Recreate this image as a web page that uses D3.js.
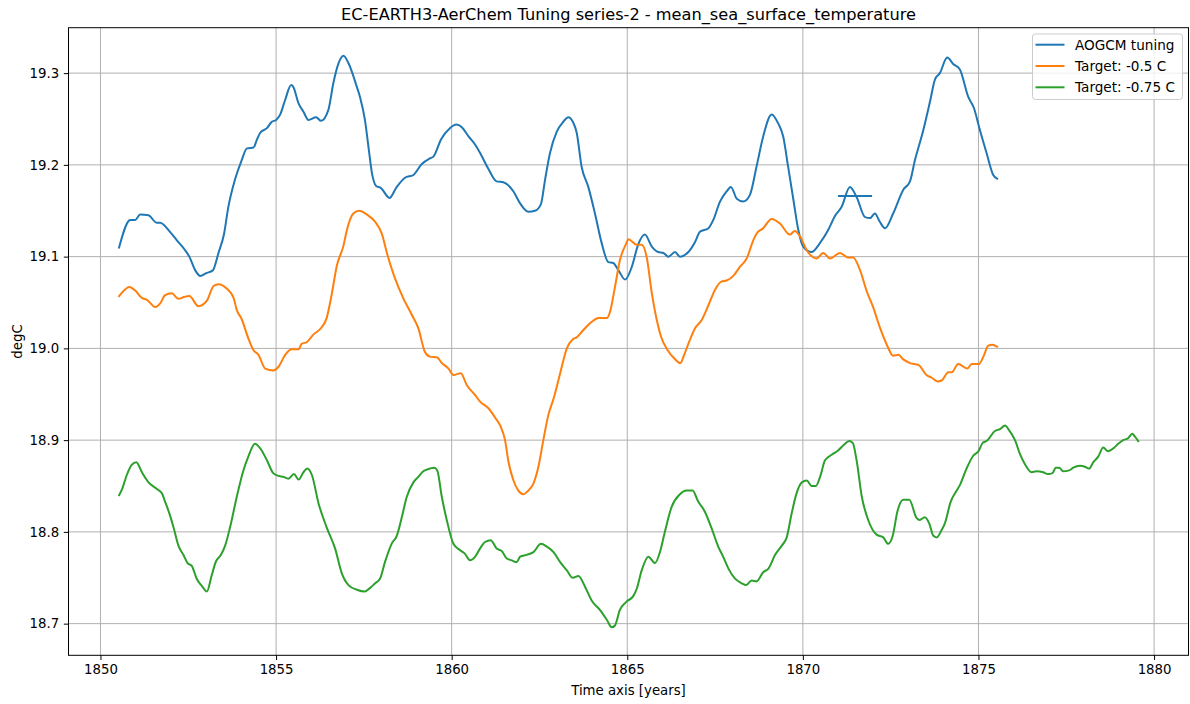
<!DOCTYPE html>
<html>
<head>
<meta charset="utf-8">
<script src="https://cdn.jsdelivr.net/npm/d3@7/dist/d3.min.js"></script>
<style>
  html, body { margin: 0; padding: 0; background: #fff; }
  svg text { font-family: "DejaVu Sans", sans-serif; fill: #000; }
  .grid line { stroke: #b0b0b0; stroke-width: 1; }
  .axis path { display: none; }
  .axis line { stroke: #000; stroke-width: 1; }
  .axis text { font-size: 13.3px; }
  .series { fill: none; stroke-width: 2; stroke-linejoin: round; stroke-linecap: square; }
</style>
</head>
<body>
<svg id="chart" width="1190" height="704"></svg>
<script>
/* Chart data */
var seriesNames = ['AOGCM tuning', 'Target: -0.5 C', 'Target: -0.75 C'];
var seriesColors = ['#1f77b4', '#ff7f0e', '#2ca02c'];

var aogcmYears = [1850.53, 1850.85, 1850.99, 1851.13, 1851.37, 1851.60, 1851.70, 1851.98, 1852.17, 1852.41,
  1852.53, 1852.70, 1852.84, 1853.01, 1853.20, 1853.36, 1853.52, 1853.64, 1853.83, 1854.02,
  1854.17, 1854.36, 1854.45, 1854.55, 1854.74, 1854.88, 1855.00, 1855.12, 1855.26, 1855.43,
  1855.49, 1855.64, 1855.78, 1855.92, 1856.14, 1856.28, 1856.49, 1856.63, 1856.78, 1856.92,
  1857.06, 1857.30, 1857.39, 1857.53, 1857.63, 1857.73, 1857.85, 1857.98, 1858.23, 1858.42,
  1858.67, 1858.91, 1859.15, 1859.38, 1859.48, 1859.70, 1859.95, 1860.13, 1860.29, 1860.48,
  1860.67, 1860.81, 1861.04, 1861.28, 1861.47, 1861.76, 1861.95, 1862.18, 1862.37, 1862.54,
  1862.66, 1862.80, 1862.99, 1863.18, 1863.32, 1863.45, 1863.56, 1863.70, 1863.89, 1864.08,
  1864.27, 1864.46, 1864.60, 1864.75, 1864.94, 1865.13, 1865.31, 1865.50, 1865.70, 1865.88,
  1866.03, 1866.17, 1866.36, 1866.50, 1866.74, 1866.93, 1867.07, 1867.31, 1867.45, 1867.64,
  1867.83, 1867.95, 1868.12, 1868.30, 1868.49, 1868.68, 1868.87, 1869.11, 1869.30, 1869.44,
  1869.58, 1869.73, 1869.87, 1870.01, 1870.25, 1870.49, 1870.72, 1870.91, 1871.10, 1871.34,
  1871.53, 1871.77, 1871.91, 1872.05, 1872.19, 1872.34, 1872.57, 1872.86, 1873.05, 1873.19,
  1873.43, 1873.62, 1873.76, 1873.90, 1874.11, 1874.28, 1874.47, 1874.71, 1874.87, 1875.04,
  1875.23, 1875.42, 1875.53];
var aogcmValues = [19.110, 19.140, 19.140, 19.146, 19.145, 19.137, 19.137, 19.127, 19.118, 19.107,
  19.100, 19.085, 19.079, 19.082, 19.085, 19.104, 19.125, 19.154, 19.184, 19.205,
  19.218, 19.219, 19.227, 19.235, 19.240, 19.247, 19.249, 19.255, 19.271, 19.287,
  19.285, 19.267, 19.258, 19.249, 19.252, 19.248, 19.260, 19.289, 19.311, 19.319,
  19.311, 19.285, 19.274, 19.249, 19.220, 19.191, 19.177, 19.175, 19.164, 19.175,
  19.186, 19.189, 19.201, 19.207, 19.209, 19.228, 19.240, 19.244, 19.241, 19.231,
  19.222, 19.213, 19.196, 19.182, 19.181, 19.171, 19.158, 19.149, 19.150, 19.157,
  19.184, 19.213, 19.236, 19.247, 19.252, 19.247, 19.235, 19.198, 19.176, 19.147,
  19.115, 19.094, 19.093, 19.085, 19.075, 19.089, 19.113, 19.124, 19.111, 19.105,
  19.104, 19.100, 19.105, 19.100, 19.105, 19.116, 19.127, 19.131, 19.140, 19.160,
  19.171, 19.176, 19.163, 19.160, 19.167, 19.198, 19.231, 19.255, 19.245, 19.231,
  19.198, 19.162, 19.129, 19.111, 19.105, 19.115, 19.129, 19.144, 19.154, 19.176,
  19.165, 19.143, 19.142, 19.147, 19.138, 19.131, 19.147, 19.173, 19.182, 19.205,
  19.238, 19.269, 19.293, 19.300, 19.317, 19.310, 19.304, 19.274, 19.262, 19.238,
  19.213, 19.189, 19.185];

// short horizontal mean marker drawn in the AOGCM colour
var meanYears = [1871.0, 1871.97];
var meanValue = 19.166;

var target05Years = [1850.53, 1850.83, 1850.99, 1851.18, 1851.32, 1851.56, 1851.70, 1851.84, 1852.03, 1852.22,
  1852.38, 1852.53, 1852.79, 1853.03, 1853.22, 1853.36, 1853.60, 1853.79, 1853.88, 1854.02,
  1854.21, 1854.36, 1854.50, 1854.69, 1854.92, 1855.07, 1855.26, 1855.45, 1855.64, 1855.73,
  1855.88, 1856.06, 1856.30, 1856.44, 1856.59, 1856.73, 1856.92, 1857.01, 1857.20, 1857.37,
  1857.58, 1857.82, 1858.01, 1858.17, 1858.36, 1858.63, 1858.86, 1859.05, 1859.24, 1859.38,
  1859.59, 1859.72, 1859.91, 1860.05, 1860.26, 1860.43, 1860.67, 1860.81, 1861.04, 1861.23,
  1861.38, 1861.52, 1861.61, 1861.76, 1861.90, 1862.04, 1862.18, 1862.33, 1862.47, 1862.61,
  1862.75, 1862.90, 1863.09, 1863.28, 1863.45, 1863.56, 1863.75, 1863.99, 1864.18, 1864.42,
  1864.51, 1864.65, 1864.79, 1864.98, 1865.03, 1865.27, 1865.41, 1865.55, 1865.70, 1865.84,
  1865.96, 1866.15, 1866.34, 1866.51, 1866.62, 1866.76, 1866.93, 1867.12, 1867.31, 1867.50,
  1867.69, 1867.83, 1868.02, 1868.21, 1868.40, 1868.59, 1868.68, 1868.87, 1869.11, 1869.35,
  1869.63, 1869.77, 1869.92, 1870.11, 1870.39, 1870.58, 1870.77, 1871.06, 1871.29, 1871.43,
  1871.63, 1871.82, 1872.00, 1872.20, 1872.39, 1872.57, 1872.72, 1872.86, 1873.05, 1873.29,
  1873.52, 1873.67, 1873.83, 1873.95, 1874.14, 1874.24, 1874.42, 1874.68, 1874.81, 1875.01,
  1875.14, 1875.28, 1875.39, 1875.53];
var target05Values = [19.057, 19.067, 19.063, 19.055, 19.053, 19.045, 19.049, 19.058, 19.060, 19.054,
  19.056, 19.057, 19.046, 19.052, 19.068, 19.070, 19.065, 19.055, 19.042, 19.032,
  19.011, 18.998, 18.993, 18.978, 18.976, 18.980, 18.993, 18.999, 18.999, 19.005,
  19.007, 19.015, 19.023, 19.033, 19.060, 19.090, 19.112, 19.128, 19.147, 19.150,
  19.146, 19.138, 19.125, 19.102, 19.079, 19.054, 19.037, 19.022, 18.996, 18.991,
  18.990, 18.984, 18.978, 18.971, 18.973, 18.960, 18.949, 18.942, 18.935, 18.925,
  18.916, 18.900, 18.878, 18.856, 18.845, 18.841, 18.845, 18.853, 18.871, 18.900,
  18.927, 18.945, 18.973, 19.000, 19.010, 19.012, 19.020, 19.029, 19.033, 19.033,
  19.040, 19.067, 19.096, 19.115, 19.119, 19.113, 19.113, 19.100, 19.060, 19.031,
  19.013, 18.998, 18.989, 18.984, 18.993, 19.007, 19.022, 19.031, 19.047, 19.064,
  19.073, 19.074, 19.079, 19.089, 19.098, 19.118, 19.125, 19.131, 19.141, 19.136,
  19.124, 19.128, 19.122, 19.107, 19.098, 19.104, 19.098, 19.104, 19.099, 19.099,
  19.085, 19.062, 19.045, 19.022, 19.004, 18.992, 18.993, 18.988, 18.984, 18.982,
  18.971, 18.968, 18.964, 18.965, 18.974, 18.974, 18.983, 18.978, 18.983, 18.983,
  18.991, 19.003, 19.004, 19.002];

var target075Years = [1850.53, 1850.61, 1850.75, 1850.89, 1851.02, 1851.18, 1851.37, 1851.56, 1851.75, 1851.84,
  1851.98, 1852.08, 1852.22, 1852.36, 1852.48, 1852.60, 1852.74, 1852.89, 1853.03, 1853.17,
  1853.29, 1853.43, 1853.55, 1853.69, 1853.88, 1854.07, 1854.21, 1854.40, 1854.55, 1854.74,
  1854.92, 1855.07, 1855.21, 1855.35, 1855.51, 1855.64, 1855.78, 1855.89, 1856.02, 1856.21,
  1856.44, 1856.68, 1856.87, 1857.06, 1857.30, 1857.53, 1857.68, 1857.82, 1857.96, 1858.10,
  1858.29, 1858.44, 1858.58, 1858.72, 1858.91, 1859.05, 1859.19, 1859.38, 1859.50, 1859.59,
  1859.72, 1859.86, 1860.05, 1860.24, 1860.38, 1860.52, 1860.67, 1860.81, 1860.95, 1861.11,
  1861.28, 1861.43, 1861.57, 1861.71, 1861.85, 1861.95, 1862.14, 1862.33, 1862.54, 1862.71,
  1862.90, 1863.09, 1863.28, 1863.45, 1863.61, 1863.80, 1863.99, 1864.22, 1864.42, 1864.56,
  1864.65, 1864.79, 1864.98, 1865.17, 1865.27, 1865.41, 1865.60, 1865.79, 1865.93, 1866.07,
  1866.26, 1866.50, 1866.69, 1866.86, 1867.02, 1867.21, 1867.40, 1867.59, 1867.73, 1867.88,
  1868.07, 1868.26, 1868.38, 1868.54, 1868.68, 1868.87, 1869.02, 1869.21, 1869.40, 1869.54,
  1869.68, 1869.82, 1869.97, 1870.11, 1870.25, 1870.37, 1870.49, 1870.63, 1870.82, 1871.01,
  1871.17, 1871.32, 1871.42, 1871.53, 1871.68, 1871.86, 1872.10, 1872.29, 1872.43, 1872.56,
  1872.69, 1872.86, 1873.03, 1873.24, 1873.33, 1873.47, 1873.60, 1873.71, 1873.81, 1873.95,
  1874.04, 1874.21, 1874.38, 1874.47, 1874.66, 1874.85, 1875.00, 1875.12, 1875.23, 1875.47,
  1875.61, 1875.76, 1875.85, 1876.04, 1876.18, 1876.32, 1876.51, 1876.65, 1876.84, 1876.98,
  1877.11, 1877.20, 1877.30, 1877.41, 1877.58, 1877.70, 1877.89, 1878.03, 1878.15, 1878.27,
  1878.41, 1878.55, 1878.69, 1878.84, 1878.98, 1879.12, 1879.26, 1879.38, 1879.45, 1879.55];
var target075Values = [18.840, 18.846, 18.862, 18.873, 18.876, 18.865, 18.854, 18.848, 18.842, 18.833,
  18.818, 18.805, 18.785, 18.775, 18.766, 18.763, 18.749, 18.741, 18.735, 18.753,
  18.768, 18.775, 18.785, 18.805, 18.838, 18.867, 18.882, 18.896, 18.891, 18.878,
  18.864, 18.861, 18.860, 18.858, 18.863, 18.857, 18.865, 18.869, 18.862, 18.831,
  18.805, 18.782, 18.755, 18.742, 18.737, 18.735, 18.739, 18.744, 18.749, 18.767,
  18.787, 18.796, 18.816, 18.838, 18.854, 18.860, 18.866, 18.869, 18.870, 18.867,
  18.838, 18.813, 18.787, 18.780, 18.776, 18.769, 18.773, 18.782, 18.789, 18.791,
  18.782, 18.779, 18.771, 18.769, 18.767, 18.773, 18.775, 18.778, 18.787, 18.784,
  18.778, 18.767, 18.758, 18.750, 18.752, 18.740, 18.725, 18.715, 18.704, 18.696,
  18.698, 18.715, 18.724, 18.730, 18.738, 18.758, 18.773, 18.766, 18.778, 18.800,
  18.827, 18.841, 18.845, 18.845, 18.833, 18.822, 18.804, 18.784, 18.773, 18.760,
  18.749, 18.744, 18.742, 18.747, 18.746, 18.756, 18.760, 18.775, 18.785, 18.794,
  18.820, 18.842, 18.854, 18.856, 18.850, 18.850, 18.860, 18.878, 18.884, 18.889,
  18.895, 18.899, 18.897, 18.878, 18.838, 18.813, 18.797, 18.794, 18.787, 18.796,
  18.822, 18.835, 18.835, 18.815, 18.813, 18.816, 18.809, 18.796, 18.794, 18.802,
  18.809, 18.833, 18.845, 18.851, 18.869, 18.883, 18.888, 18.897, 18.899, 18.910,
  18.912, 18.916, 18.912, 18.900, 18.885, 18.874, 18.865, 18.866, 18.865, 18.863,
  18.864, 18.870, 18.870, 18.866, 18.867, 18.870, 18.872, 18.871, 18.869, 18.876,
  18.882, 18.892, 18.888, 18.891, 18.896, 18.900, 18.902, 18.907, 18.904, 18.899];

var xTicks = [1850, 1855, 1860, 1865, 1870, 1875, 1880];
var yTicks = [18.7, 18.8, 18.9, 19.0, 19.1, 19.2, 19.3];

var chartTitle = 'EC-EARTH3-AerChem Tuning series-2 - mean_sea_surface_temperature';
var xLabel = 'Time axis [years]';
var yLabel = 'degC';

/* Layout */
var plot = { left: 68.5, right: 1188.5, top: 27.7, bottom: 655.3 };

function zipSeries(years, values) {
	var out = [];
	for (var i = 0; i < years.length; i++)
		out.push({ year: years[i], value: values[i] });
	return out;
}

function drawChart() {
	var svg = d3.select('#chart');

	var x = d3.scaleLinear().domain([1849.09, 1880.98]).range([plot.left, plot.right]);
	var y = d3.scaleLinear().domain([18.6655, 19.3495]).range([plot.bottom, plot.top]);

	// grid
	var grid = svg.append('g').attr('class', 'grid');
	grid.selectAll('line.gx').data(xTicks).enter().append('line')
		.attr('x1', function(d) { return x(d); }).attr('x2', function(d) { return x(d); })
		.attr('y1', plot.top).attr('y2', plot.bottom);
	grid.selectAll('line.gy').data(yTicks).enter().append('line')
		.attr('y1', function(d) { return y(d); }).attr('y2', function(d) { return y(d); })
		.attr('x1', plot.left).attr('x2', plot.right);

	// lines
	var line = d3.line()
		.x(function(d) { return x(d.year); })
		.y(function(d) { return y(d.value); })
		.curve(d3.curveMonotoneX);

	var allSeries = [
		zipSeries(aogcmYears, aogcmValues),
		zipSeries(target05Years, target05Values),
		zipSeries(target075Years, target075Values)
	];

	svg.append('clipPath').attr('id', 'plotClip').append('rect')
		.attr('x', plot.left).attr('y', plot.top)
		.attr('width', plot.right - plot.left).attr('height', plot.bottom - plot.top);

	var lines = svg.append('g').attr('clip-path', 'url(#plotClip)');
	for (var i = 0; i < allSeries.length; i++) {
		lines.append('path')
			.datum(allSeries[i])
			.attr('class', 'series')
			.attr('stroke', seriesColors[i])
			.attr('d', line);
	}

	lines.append('path')
		.datum(zipSeries(meanYears, [meanValue, meanValue]))
		.attr('class', 'series')
		.attr('stroke', seriesColors[0])
		.style('stroke-linecap', 'butt')
		.attr('d', d3.line().x(function(d) { return x(d.year); }).y(function(d) { return y(d.value); }));

	// axes
	svg.append('g').attr('class', 'axis')
		.attr('transform', 'translate(0,' + plot.bottom + ')')
		.call(d3.axisBottom(x).tickValues(xTicks).tickFormat(d3.format('d')).tickSize(4.7).tickPadding(4.2));
	svg.append('g').attr('class', 'axis')
		.attr('transform', 'translate(' + plot.left + ',0)')
		.call(d3.axisLeft(y).tickValues(yTicks).tickFormat(d3.format('.1f')).tickSize(4.7).tickPadding(4.7));

	// frame
	svg.append('rect')
		.attr('x', plot.left).attr('y', plot.top)
		.attr('width', plot.right - plot.left).attr('height', plot.bottom - plot.top)
		.attr('fill', 'none').attr('stroke', '#000').attr('stroke-width', 1);

	// titles
	svg.append('text')
		.attr('x', (plot.left + plot.right) / 2).attr('y', 20)
		.attr('text-anchor', 'middle').style('font-size', '16.2px')
		.text(chartTitle);
	svg.append('text')
		.attr('x', (plot.left + plot.right) / 2).attr('y', 695)
		.attr('text-anchor', 'middle').style('font-size', '13.3px')
		.text(xLabel);
	svg.append('text')
		.attr('transform', 'translate(22,' + ((plot.top + plot.bottom) / 2) + ') rotate(-90)')
		.attr('text-anchor', 'middle').style('font-size', '13.3px')
		.text(yLabel);

	createLegend(svg);
}

function createLegend(svg) {
	var legend = svg.append('g').attr('transform', 'translate(1032.5,34)');
	legend.append('rect')
		.attr('width', 150).attr('height', 65.5)
		.attr('rx', 3).attr('ry', 3)
		.attr('fill', '#fff').attr('fill-opacity', 0.8)
		.attr('stroke', '#cccccc').attr('stroke-width', 1);

	for (var i = 0; i < seriesNames.length; i++) {
		var rowY = 10.7 + i * 21.3;
		legend.append('line')
			.attr('x1', 3).attr('x2', 32)
			.attr('y1', rowY).attr('y2', rowY)
			.attr('stroke', seriesColors[i]).attr('stroke-width', 2);
		legend.append('text')
			.attr('x', 42.5).attr('y', rowY + 4.8)
			.style('font-size', '13.6px')
			.text(seriesNames[i]);
	}
}

drawChart();
</script>
</body>
</html>
